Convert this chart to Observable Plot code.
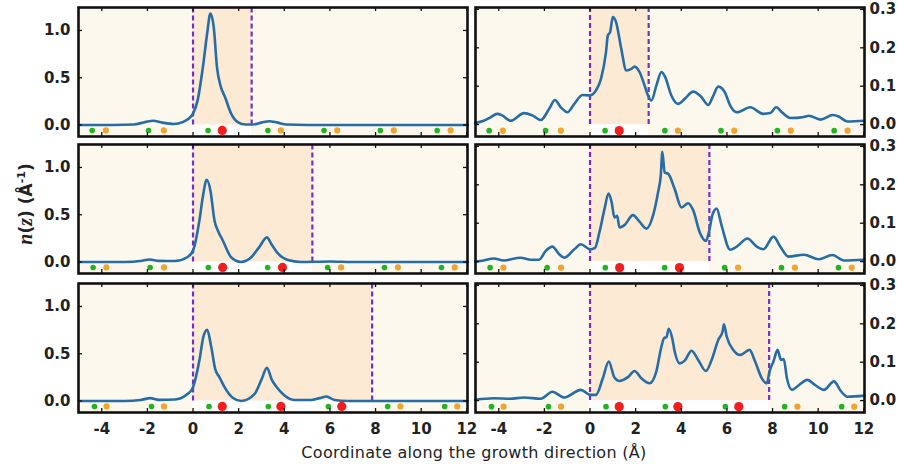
<!DOCTYPE html>
<html><head><meta charset="utf-8">
<script src="https://cdn.jsdelivr.net/npm/d3@7"></script>
<script src="https://cdn.jsdelivr.net/npm/@observablehq/plot@0.6"></script>
<style>
body{margin:0;background:#fff;}
#wrap{position:relative;width:897px;height:464px;overflow:hidden;background:#fff;}
.panel{position:absolute;}
.panel svg text{font-family:"DejaVu Sans",sans-serif;font-size:15px;font-weight:bold;fill:#222;}
#ytitle{position:absolute;left:25px;top:204px;transform:translate(-50%,-50%) rotate(-90deg);white-space:nowrap;font:bold 17px "DejaVu Sans",sans-serif;color:#222;}
#ytitle i{font-family:"Liberation Serif",serif;font-size:20px;}
#ytitle sup{font-size:11px;}
#xtitle{position:absolute;left:474px;top:443px;transform:translateX(-50%);white-space:nowrap;font:16px "DejaVu Sans",sans-serif;letter-spacing:0.3px;color:#222;}
</style></head><body><div id="wrap"><div id="ytitle"><i>n</i>(<i>z</i>) (Å<sup>-1</sup>)</div><div id="xtitle">Coordinate along the growth direction (Å)</div></div>
<script>
// ---- axes / ticks ----
const xTicks = [-4, -2, 0, 2, 4, 6, 8, 10, 12];
const leftYTicks = [0, 0.5, 1.0];
const rightYTicks = [0, 0.1, 0.2, 0.3];
const xDomain = [-5.02, 12.03];
const leftYDomain = [-0.122, 1.243];
const rightYDomain = [-0.031, 0.305];
const leftSiteY = -0.058;
const rightSiteY = -0.0157;

// ---- interface boundaries (lower at 0, upper per row) ----
const lowerBoundary = 0;
const upperBoundary = [2.57, 5.23, 7.85];

// ---- atomic sites per row ----
const greenRow1 = [-4.42, -1.95, 0.66, 3.28, 5.74, 8.21, 10.7];
const orangeRow1 = [-3.82, -1.28, 3.85, 6.32, 8.8, 11.29];
const redRow1 = [1.28];
const greenRow2 = [-4.38, -1.88, 0.67, 3.27, 5.9, 8.39, 10.89];
const orangeRow2 = [-3.8, -1.27, 6.49, 8.98, 11.47];
const redRow2 = [1.3, 3.92];
const greenRow3 = [-4.32, -1.82, 0.7, 3.3, 5.93, 8.53, 11.03];
const orangeRow3 = [-3.79, -1.27, 9.09, 11.58];
const redRow3 = [1.28, 3.85, 6.52];

// ---- n(z) curves, left column ----
const leftRow1X = [-5.0,-3.5,-2.6,-2.1,-1.75,-1.35,-0.85,-0.45,-0.2,0,0.2,0.43,0.62,0.76,0.91,1.05,1.2,1.41,1.67,1.96,2.3,2.6,3.0,3.35,3.7,4.1,5,12.05];
const leftRow1Y = [0,0,0.005,0.03,0.045,0.025,0.01,0.03,0.065,0.12,0.26,0.61,0.97,1.18,1.03,0.61,0.42,0.29,0.12,0.03,0.005,0.005,0.025,0.04,0.025,0.005,0,0];
const leftRow2X = [-5,-3,-2.3,-1.9,-1.5,-0.8,-0.25,0,0.28,0.43,0.6,0.76,0.94,1.11,1.3,1.67,2.1,2.55,2.91,3.24,3.43,3.72,4.16,4.7,6,7,12.05];
const leftRow2Y = [0,0,0.01,0.026,0.012,0.01,0.05,0.12,0.44,0.69,0.87,0.76,0.44,0.32,0.23,0.05,0.0,0.05,0.16,0.26,0.19,0.09,0.02,0.0,0.005,0.0,0];
const leftRow3X = [-5,-3,-2.3,-1.88,-1.5,-0.8,-0.23,0,0.28,0.45,0.62,0.8,0.97,1.16,1.38,1.74,2.11,2.7,2.99,3.24,3.46,3.69,4.01,4.45,5.18,5.55,5.85,6.2,6.8,12.05];
const leftRow3Y = [0,0,0.01,0.03,0.012,0.015,0.076,0.146,0.43,0.675,0.753,0.57,0.34,0.25,0.146,0.034,0.0,0.076,0.22,0.35,0.22,0.14,0.058,0.01,0.01,0.03,0.048,0.01,0.0,0];

// ---- n(z) curves, right column ----
const rightRow1X = [-5.03,-4.66,-4.36,-4.07,-3.85,-3.48,-2.89,-2.53,-2.16,-1.79,-1.54,-1.28,-0.99,-0.69,-0.33,0,0.26,0.48,0.7,0.78,0.88,1.0,1.14,1.37,1.59,1.81,1.95,2.17,2.39,2.54,2.69,2.91,3.13,3.3,3.55,3.86,4.15,4.52,4.88,5.18,5.4,5.62,5.91,6.14,6.43,7.02,7.6,7.9,8.16,8.41,8.78,9.37,9.59,10.1,10.64,10.9,11.28,12.03];
const rightRow1Y = [0.004,0.01,0.019,0.028,0.024,0.01,0.03,0.024,0.012,0.041,0.064,0.045,0.032,0.054,0.077,0.076,0.089,0.119,0.189,0.232,0.241,0.28,0.267,0.197,0.141,0.145,0.151,0.137,0.102,0.076,0.063,0.102,0.137,0.123,0.078,0.054,0.067,0.086,0.072,0.051,0.075,0.099,0.084,0.05,0.032,0.045,0.028,0.03,0.045,0.032,0.017,0.02,0.023,0.013,0.025,0.021,0.008,0.01];
const rightRow2X = [-5.03,-4.66,-4.22,-3.78,-3.04,-2.6,-2.23,-1.94,-1.65,-1.35,-1.13,-0.69,-0.4,0,0.22,0.41,0.63,0.81,0.95,1.07,1.19,1.29,1.51,1.88,2.17,2.47,2.76,2.98,3.1,3.17,3.27,3.42,3.71,4.01,4.3,4.52,4.81,5.08,5.22,5.37,5.55,5.77,6.14,6.43,6.9,7.31,7.6,8.04,8.34,8.7,9.37,10.03,10.62,11.13,12.03];
const rightRow2Y = [0.0,0.003,0.008,0.003,0.01,0.005,0.005,0.028,0.039,0.019,0.01,0.032,0.045,0.032,0.036,0.076,0.136,0.177,0.154,0.115,0.119,0.089,0.095,0.121,0.104,0.086,0.12,0.18,0.224,0.286,0.232,0.229,0.189,0.141,0.152,0.134,0.076,0.054,0.079,0.123,0.138,0.093,0.031,0.039,0.06,0.039,0.032,0.065,0.039,0.013,0.018,0.006,0.017,0.003,0.005];
const rightRow3X = [-5.03,-4.22,-3.5,-2.89,-2.16,-1.65,-1.13,-0.4,0,0.26,0.56,0.82,1.07,1.29,1.66,1.95,2.25,2.61,2.91,3.13,3.25,3.35,3.45,3.6,3.71,3.93,4.15,4.45,4.74,5.08,5.33,5.62,5.81,5.87,5.99,6.28,6.58,6.99,7.24,7.53,7.75,7.87,8.04,8.22,8.37,8.49,8.63,8.85,9.15,9.52,9.88,10.25,10.69,10.99,11.28,12.03];
const rightRow3Y = [0.002,0.006,0.005,0.008,0.005,0.023,0.008,0.028,0.015,0.015,0.058,0.102,0.06,0.051,0.061,0.077,0.058,0.045,0.077,0.141,0.163,0.165,0.187,0.163,0.128,0.097,0.104,0.13,0.106,0.077,0.106,0.158,0.18,0.199,0.167,0.132,0.119,0.132,0.101,0.058,0.045,0.077,0.102,0.132,0.106,0.108,0.058,0.028,0.04,0.054,0.04,0.028,0.05,0.025,0.01,0.013];

// ---- colours ----
const cream = "#fdf8ee", peach = "#fcead5", lineBlue = "#266ca6", dashPurple = "#7430c4";
const green = "#22b322", orange = "#f0a530", red = "#f01e1e";

const frameTops = [7, 144, 283];
const frameH = 129, frameW = 389;

const rows = [
  {green: greenRow1, orange: orangeRow1, red: redRow1, lx: leftRow1X, ly: leftRow1Y, rx: rightRow1X, ry: rightRow1Y},
  {green: greenRow2, orange: orangeRow2, red: redRow2, lx: leftRow2X, ly: leftRow2Y, rx: rightRow2X, ry: rightRow2Y},
  {green: greenRow3, orange: orangeRow3, red: redRow3, lx: leftRow3X, ly: leftRow3Y, rx: rightRow3X, ry: rightRow3Y}
];

const wrap = document.getElementById("wrap");

function makePanel(row, r, side) {
  const isLeft = side === "left";
  const yDomain = isLeft ? leftYDomain : rightYDomain;
  const yTicks = isLeft ? leftYTicks : rightYTicks;
  const siteY = isLeft ? leftSiteY : rightSiteY;
  const xs = isLeft ? row.lx : row.rx;
  const ys = isLeft ? row.ly : row.ry;
  const bottom = r === 2;
  const mTop = 7, mBottom = bottom ? 32 : 3;
  const mLeft = isLeft ? 78 : 3, mRight = isLeft ? 3 : 33;
  const width = frameW + mLeft + mRight;
  const height = frameH + mTop + mBottom;
  const upper = upperBoundary[r];
  const marks = [
    Plot.frame({fill: cream}),
    Plot.rect([upper], {x1: () => lowerBoundary, x2: d => d, fill: peach}),
    Plot.rect([upper], {x1: () => lowerBoundary, x2: d => d, y1: () => yDomain[0], y2: () => 0, fill: "#ffffff"}),
    Plot.ruleX([lowerBoundary, upper], {y1: () => 0, y2: () => yDomain[1], stroke: dashPurple, strokeWidth: 2.2, strokeDasharray: "5,3"}),
    Plot.line(xs, {x: xs, y: ys, curve: "monotone-x", stroke: lineBlue, strokeWidth: 2.6}),
    Plot.dot(row.green, {x: d => d, y: () => siteY, r: 2.8, fill: green}),
    Plot.dot(row.orange, {x: d => d, y: () => siteY, r: 3.1, fill: orange}),
    Plot.dot(row.red, {x: d => d, y: () => siteY, r: 4.6, fill: red}),
    Plot.tickX(xTicks, {x: d => d, insetBottom: frameH - 4, stroke: "#111", strokeWidth: 1.3}),
    Plot.tickX(xTicks, {x: d => d, insetTop: frameH - 4, stroke: "#111", strokeWidth: 1.3}),
    Plot.tickY(yTicks, {y: d => d, insetRight: frameW - 4, stroke: "#111", strokeWidth: 1.3}),
    Plot.tickY(yTicks, {y: d => d, insetLeft: frameW - 4, stroke: "#111", strokeWidth: 1.3}),
    Plot.frame({stroke: "#111", strokeWidth: 2.6}),
    Plot.axisY(yTicks, {anchor: isLeft ? "left" : "right", tickSize: 0, tickPadding: isLeft ? 8 : 5, tickFormat: d3.format(".1f"), label: null})
  ];
  if (bottom) marks.push(Plot.axisX(xTicks, {anchor: "bottom", tickSize: 0, tickPadding: 11, tickFormat: d => String(d), label: null}));
  const chart = Plot.plot({
    width, height,
    marginTop: mTop, marginBottom: mBottom, marginLeft: mLeft, marginRight: mRight,
    x: {domain: xDomain, axis: bottom ? undefined : null},
    y: {domain: yDomain},
    style: {background: "transparent", overflow: "visible"},
    marks
  });
  const div = document.createElement("div");
  div.className = "panel";
  div.style.left = (isLeft ? 0 : 472) + "px";
  div.style.top = (frameTops[r] - mTop) + "px";
  div.appendChild(chart);
  wrap.appendChild(div);
}

rows.forEach((row, r) => { makePanel(row, r, "left"); makePanel(row, r, "right"); });
</script>
</body></html>
